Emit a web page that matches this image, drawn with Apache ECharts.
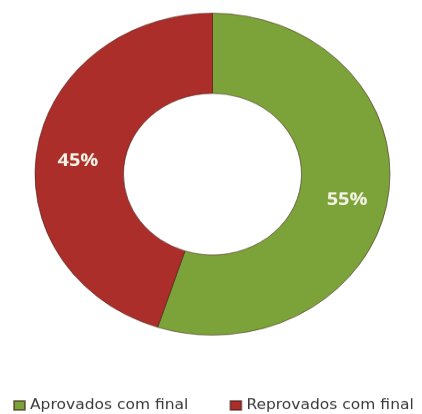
<!DOCTYPE html>
<html>
<head>
<meta charset="utf-8">
<script src="https://cdn.jsdelivr.net/npm/echarts@6/dist/echarts.min.js"></script>
<style>
html,body{margin:0;padding:0;background:#fff;overflow:hidden;}
#wrap{width:422px;height:414px;overflow:hidden;}
#chart{width:422px;height:456px;transform:scaleY(0.907);transform-origin:0 0;}
</style>
</head>
<body>
<div id="wrap"><div id="chart"></div></div>
<script>
const categories = ['Aprovados com final', 'Reprovados com final'];
const values = [55, 45];
const colors = ['#7ca23a', '#ab2e2a'];

const chart = echarts.init(document.getElementById('chart'), null, {renderer: 'canvas'});
chart.setOption({
  backgroundColor: '#ffffff',
  animation: false,
  legend: {
    data: categories,
    left: 13,
    top: 439,
    padding: 0,
    itemWidth: 11,
    itemHeight: 10,
    itemGap: 41,
    icon: 'rect',
    textStyle: {fontFamily: 'DejaVu Sans', fontSize: 15.5, color: '#3a3a3a'}
  },
  series: [{
    type: 'pie',
    center: [212.5, 192],
    radius: [89, 177.5],
    startAngle: 90,
    clockwise: true,
    label: {
      position: 'inside',
      formatter: '{s|}\n{v|{d}%}',
      rich: {
        s: {height: 14, fontSize: 1},
        v: {color: '#f4f4e4', fontFamily: 'Open Sans', fontWeight: 'bold', fontSize: 20}
      }
    },
    labelLine: {show: false},
    itemStyle: {borderColor: 'rgba(60,30,20,0.55)', borderWidth: 1},
    data: categories.map((c, i) => ({name: c, value: values[i], itemStyle: {color: colors[i]}}))
  }]
});
</script>
</body>
</html>
